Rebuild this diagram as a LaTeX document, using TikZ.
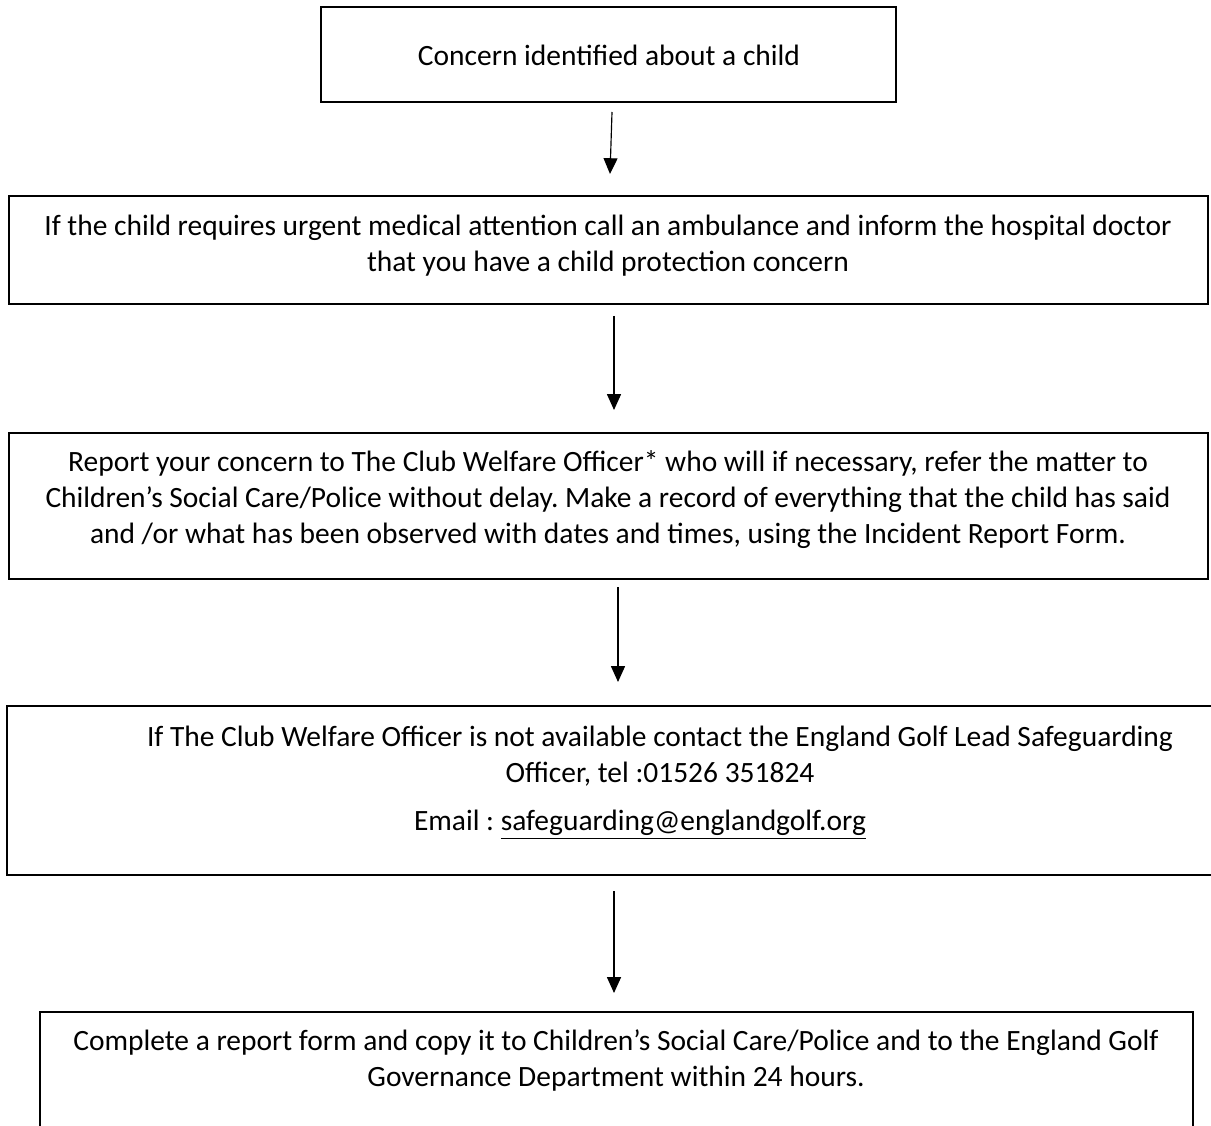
\documentclass[tikz,border=0pt]{standalone}
\usepackage{fontspec}
\setmainfont{Carlito}
\frenchspacing
\usetikzlibrary{arrows.meta,fit}
\tikzset{
    box/.style={
    rectangle,draw=black,line width=0.9pt,inner sep=0pt
    },
    boxtext/.style={
    align=center,inner sep=0pt,font=\fontsize{12.7}{15.5}\selectfont
    },
    flow/.style={
    -{Triangle[length=6.8pt,width=6pt]},line width=0.5pt
    },
}

\begin{document}
\begin{tikzpicture}[x=0.431pt, y=-0.431pt]
   \useasboundingbox (0,0) rectangle (1211,1126);
   \clip (0,0) rectangle (1211,1126);

   % boxes
   \node[box, fit={(321,7) (896,102)}] (CI) {};
   \node[box, fit={(9,196) (1208,304)}] (UMA) {};
   \node[box, fit={(9,433) (1208,579)}] (RC) {};
   \node[box, fit={(7,706) (1216,875)}] (CWO) {};
   \node[box, fit={(40,1012) (1193,1160)}] (CRF) {};

   % texts
   \node[boxtext] (CIt) at (609,55) {Concern identified about a child};
   \node[boxtext] (UMAt) at (608,246) {If the child requires urgent medical attention call an ambulance and inform the hospital doctor\\that you have a child protection concern};
   \node[boxtext] (RCt) at (608,500) {Report your concern to The Club Welfare Officer* who will if necessary, refer the matter to\\Children’s Social Care/Police without delay. Make a record of everything that the child has said\\and /or what has been observed with dates and times, using the Incident Report Form.};
   \node[boxtext] (CWOt) at (660,756) {If The Club Welfare Officer is not available contact the England Golf Lead Safeguarding\\Officer, tel :01526 351824};
   \node[boxtext] (CWOm) at (640,825) {Email : \underline{safeguarding@englandgolf.org}};
   \node[boxtext] (CRFt) at (616,1060) {Complete a report form and copy it to Children’s Social Care/Police and to the England Golf\\Governance Department within 24 hours.};

   % arrows
   \coordinate (s1) at (612,112);  \coordinate (e1) at (610,174);
   \coordinate (s2) at (614,316);  \coordinate (e2) at (614,410);
   \coordinate (s3) at (618,587);  \coordinate (e3) at (618,682);
   \coordinate (s4) at (614,891);  \coordinate (e4) at (614,993);

  \path[flow]
    (s1) edge (e1)
    (s2) edge (e2)
    (s3) edge (e3)
    (s4) edge (e4);
\end{tikzpicture}
\end{document}
